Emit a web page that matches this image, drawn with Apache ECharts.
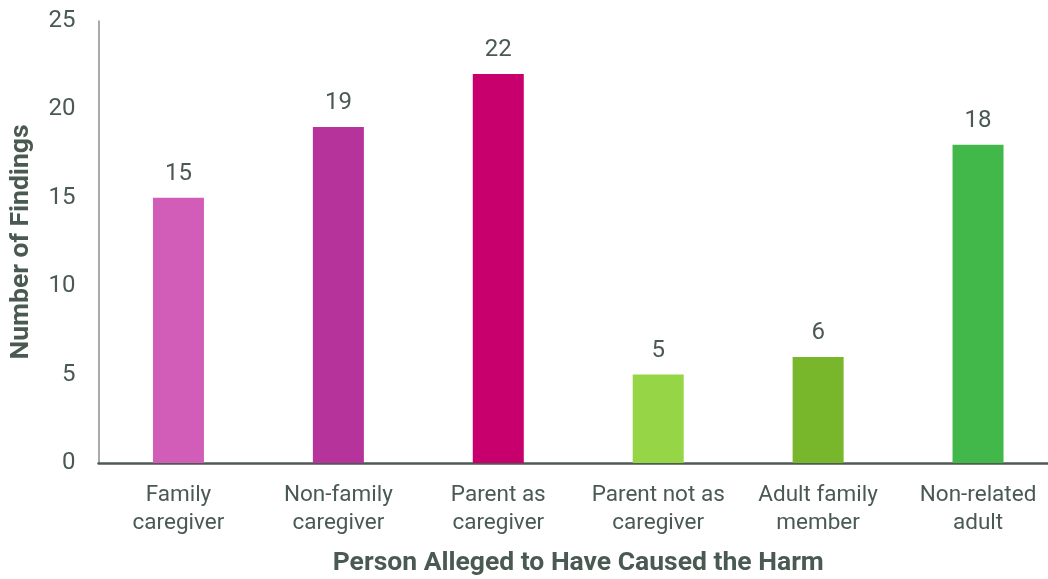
<!DOCTYPE html>
<html>
<head>
<meta charset="utf-8">
<script src="https://cdn.jsdelivr.net/npm/echarts@6/dist/echarts.min.js"></script>
<style>
  html, body { margin: 0; padding: 0; background: #ffffff; }
  #chart { width: 1048px; height: 579px; }
</style>
</head>
<body>
<div id="chart"></div>
<script>
// Findings by the person alleged to have caused the harm
const categories = [
  'Family\ncaregiver',
  'Non-family\ncaregiver',
  'Parent as\ncaregiver',
  'Parent not as\ncaregiver',
  'Adult family\nmember',
  'Non-related\nadult'
];
const findings = [15, 19, 22, 5, 6, 18];
const barColors = ['#d25db8', '#b5339b', '#c8006e', '#95d546', '#78b62b', '#42b84a'];
const yTicks = [0, 5, 10, 15, 20, 25];

const textColor = '#4a5a52';
const font = 'Roboto, "Open Sans", sans-serif';

const chart = echarts.init(document.getElementById('chart'), null, { renderer: 'canvas' });
chart.setOption({
  animation: false,
  backgroundColor: '#ffffff',
  grid: { left: 98.5, right: -10, top: 21, bottom: 116, containLabel: false, outerBoundsMode: 'none' },
  xAxis: {
    type: 'category',
    data: categories,
    name: 'Person Alleged to Have Caused the Harm',
    nameLocation: 'middle',
    nameGap: 87,
    nameTextStyle: { color: textColor, fontSize: 26.5, fontWeight: 'bold', fontFamily: font },
    axisLine: { lineStyle: { color: '#4d5a53', width: 2.5 } },
    axisTick: { show: false },
    axisLabel: { color: textColor, fontSize: 22.5, fontWeight: 400, fontFamily: font, lineHeight: 28, margin: 18, interval: 0 }
  },
  yAxis: {
    type: 'value',
    min: yTicks[0],
    max: yTicks[yTicks.length - 1],
    interval: 5,
    name: 'Number of Findings',
    nameLocation: 'middle',
    nameGap: 64,
    nameTextStyle: { color: textColor, fontSize: 26.5, fontWeight: 'bold', fontFamily: font },
    axisLine: { show: true, lineStyle: { color: '#8a918d', width: 1.5 } },
    axisTick: { show: false },
    splitLine: { show: false },
    axisLabel: { color: textColor, fontSize: 24, fontWeight: 400, fontFamily: font, margin: 23 }
  },
  series: [{
    type: 'bar',
    data: findings.map((v, i) => ({ value: v, itemStyle: { color: barColors[i] } })),
    barWidth: 51,
    label: {
      show: true,
      position: 'top',
      distance: 12,
      color: textColor,
      fontSize: 24,
      fontWeight: 400,
      fontFamily: font
    }
  }]
});
</script>
</body>
</html>
